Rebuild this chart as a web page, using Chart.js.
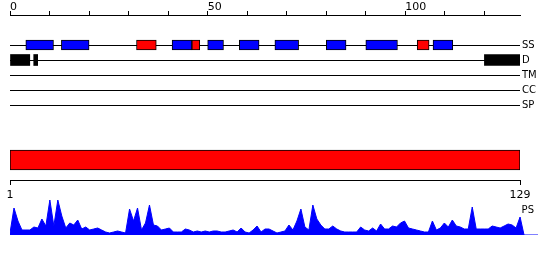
<!DOCTYPE html>
<html><head><meta charset="utf-8">
<script src="https://cdn.jsdelivr.net/npm/chart.js@4/dist/chart.umd.min.js"></script>
<style>
html,body{margin:0;padding:0;background:#fff;}
#wrap{position:relative;width:550px;height:260px;overflow:hidden;background:#fff;}
canvas{position:absolute;left:0;}
</style></head><body>
<div id="wrap">
<canvas id="tracks" width="550" height="115" style="top:0px"></canvas>
<canvas id="seq" width="550" height="62" style="top:140px"></canvas>
<canvas id="ps" width="550" height="45" style="top:195px"></canvas>
</div>
<script>
// ---- data ----
const trackNames = ['SS', 'D', 'TM', 'CC', 'SP'];
const topTicks = [0, 10, 20, 30, 40, 50, 60, 70, 80, 90, 100, 110, 120];
const topTickLabels = ['0', '', '', '', '', '50', '', '', '', '', '100', '', ''];
const ssBlue = [[4, 11], [13, 20], [41, 46], [50, 54], [58, 63], [67, 73], [80, 85], [90, 98], [107, 112]];
const ssRed = [[32, 37], [46, 48], [103, 106]];
const disorder = [[0, 5], [6, 7], [120, 129]];
const seqRange = [1, 129];
const seqTicks = [1, 129];
const psValues = [
  2, 27, 14, 5, 5, 5, 8, 7, 16, 9,
  35, 9, 35, 19, 7, 12, 10, 15, 6, 8,
  5, 6, 7, 5, 3, 2, 3, 4, 3, 2,
  26, 14, 27, 5, 12, 30, 10, 9, 5, 6,
  7, 3, 3, 3, 6, 5, 3, 4, 3, 4,
  3, 4, 4, 3, 3, 4, 5, 3, 7, 3,
  2, 5, 9, 3, 6, 6, 4, 2, 3, 4,
  10, 5, 14, 26, 8, 5, 30, 16, 10, 6,
  6, 9, 6, 4, 3, 3, 3, 3, 8, 5,
  4, 7, 4, 11, 6, 6, 9, 8, 12, 14,
  7, 6, 5, 4, 3, 3, 14, 5, 7, 12,
  8, 15, 9, 8, 6, 6, 28, 6, 6, 6,
  6, 9, 8, 7, 9, 11, 10, 7, 18
];
const psTail = [0, 0, 0, 0, 0];

Chart.defaults.font.family = "'DejaVu Sans', sans-serif";
Chart.defaults.color = '#000';
const common = { responsive: false, animation: false, events: [] };
const noPlugins = { legend: { display: false }, tooltip: { enabled: false } };
const noPad = s => { s.paddingTop = 0; s.paddingBottom = 0; s.paddingLeft = 0; s.paddingRight = 0; };

// ---- tracks chart ----
new Chart(document.getElementById('tracks'), {
  type: 'bar',
  data: {
    labels: ['', ''].concat(trackNames),
    datasets: [
      { data: ssBlue.map(r => ({ y: 'SS', x: r })), backgroundColor: '#0000ff', borderColor: '#000', borderWidth: 1, borderSkipped: false, barThickness: 10, grouped: false },
      { data: ssRed.map(r => ({ y: 'SS', x: r })), backgroundColor: '#ff0000', borderColor: '#000', borderWidth: 1, borderSkipped: false, barThickness: 10, grouped: false },
      { data: disorder.map(r => ({ y: 'D', x: r })), backgroundColor: '#000', borderColor: '#000', borderWidth: 0, borderSkipped: false, barThickness: 11, grouped: false }
    ]
  },
  options: Object.assign({}, common, {
    indexAxis: 'y',
    layout: { padding: { left: 10, right: 0, top: 0, bottom: 10 } },
    plugins: noPlugins,
    scales: {
      x: {
        type: 'linear', position: 'top', min: 0, max: 129,
        afterBuildTicks: s => { s.ticks = topTicks.map(v => ({ value: v })); },
        afterFit: s => { s.height = 15; noPad(s); },
        ticks: { align: 'start', padding: -2, autoSkip: false, maxRotation: 0, font: { size: 11, lineHeight: 1 },
          callback: v => { const i = topTicks.indexOf(v); return i >= 0 ? topTickLabels[i] : ''; } },
        grid: { drawOnChartArea: false, drawTicks: true, tickLength: 4, color: '#000' },
        border: { color: '#000', width: 1 }
      },
      y: {
        type: 'category', position: 'right', offset: false,
        afterFit: s => { s.width = 30; noPad(s); },
        grid: { offset: false, drawTicks: false, lineWidth: 1,
          color: c => (c.tick && c.tick.label) ? '#000' : 'rgba(0,0,0,0)' },
        border: { display: false },
        ticks: { padding: 2, autoSkip: false, font: { size: 10 } }
      }
    }
  })
});

// ---- sequence bar + numbering ----
new Chart(document.getElementById('seq'), {
  type: 'bar',
  data: {
    labels: ['seq'],
    datasets: [{ data: [{ y: 'seq', x: seqRange }], backgroundColor: '#ff0000', borderColor: '#000', borderWidth: 1, borderSkipped: false, barThickness: 20 }]
  },
  options: Object.assign({}, common, {
    indexAxis: 'y',
    layout: { padding: { left: 10, right: 30, top: 0, bottom: 0 } },
    plugins: noPlugins,
    scales: {
      x: {
        type: 'linear', position: 'bottom', min: seqRange[0], max: seqRange[1],
        afterBuildTicks: s => { s.ticks = seqTicks.map(v => ({ value: v })); },
        afterFit: s => { s.height = 22; noPad(s); },
        ticks: { padding: 4, autoSkip: false, maxRotation: 0, font: { size: 11 } },
        grid: { drawOnChartArea: false, tickLength: 5, color: '#000' },
        border: { color: '#000', width: 1 }
      },
      y: { display: false }
    }
  })
});

// ---- PS profile ----
new Chart(document.getElementById('ps'), {
  type: 'line',
  data: {
    datasets: [{
      data: psValues.concat(psTail).map((v, i) => ({ x: i + 1, y: v })),
      borderColor: '#0000ff', backgroundColor: '#0000ff', borderWidth: 1,
      fill: 'origin', pointRadius: 0, tension: 0
    }]
  },
  options: Object.assign({}, common, {
    layout: { padding: { left: 10, right: 12, top: 0, bottom: 5 } },
    plugins: noPlugins,
    scales: {
      x: { type: 'linear', display: false, min: 1, max: 133.5 },
      y: {
        position: 'right', min: 0, max: 40,
        afterBuildTicks: s => { s.ticks = [{ value: 25 }]; },
        afterFit: s => { s.width = 0; noPad(s); },
        grid: { display: false, drawTicks: false },
        border: { display: false },
        ticks: { mirror: true, padding: -4, font: { size: 10 }, callback: () => 'PS' }
      }
    }
  })
});
</script>
</body></html>
